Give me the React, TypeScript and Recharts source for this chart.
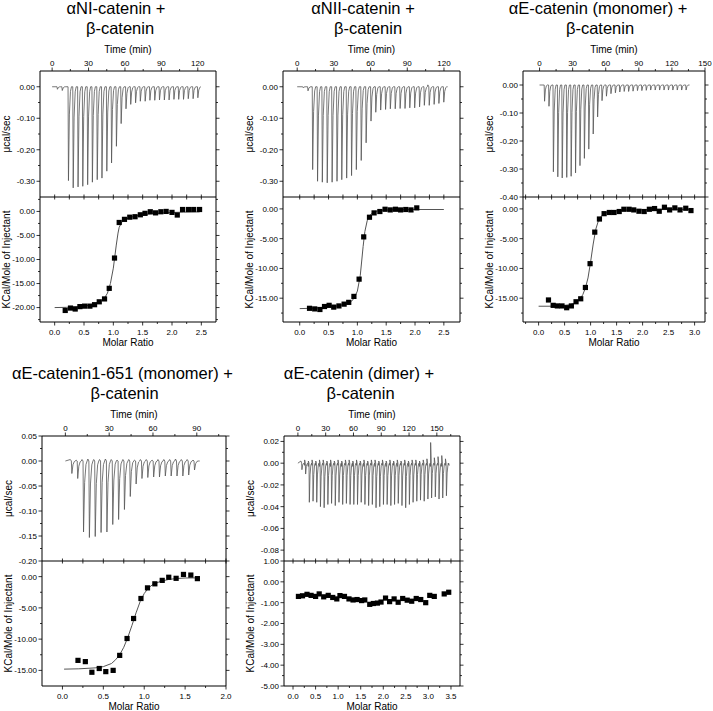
import React from 'react';
import { ComposedChart, Line, Scatter, XAxis, YAxis } from 'recharts';

// ---------------- Panel 1: αNI-catenin + β-catenin ----------------
const p1Times = [4.0, 8.0, 13.1, 17.0, 21.0, 24.9, 28.9, 32.8, 36.8, 40.7, 44.7, 48.6, 52.6, 56.5, 60.5, 64.4, 68.4, 72.3, 76.3, 80.2, 84.2, 88.1, 92.1, 96.0, 100.0, 103.9, 107.9, 111.8, 115.8, 119.7];
const p1Peaks = [-0.008, -0.012, -0.298, -0.321, -0.318, -0.316, -0.311, -0.303, -0.295, -0.290, -0.268, -0.242, -0.189, -0.117, -0.070, -0.056, -0.051, -0.046, -0.046, -0.043, -0.043, -0.042, -0.042, -0.042, -0.040, -0.040, -0.040, -0.038, -0.038, -0.035];
const p1Ratio = [0.18, 0.27, 0.35, 0.43, 0.51, 0.6, 0.68, 0.76, 0.85, 0.93, 1.02, 1.1, 1.19, 1.28, 1.37, 1.46, 1.54, 1.63, 1.72, 1.81, 1.9, 2.0, 2.09, 2.18, 2.28, 2.37, 2.47];
const p1Heat = [-20.6, -20.1, -20.3, -19.8, -19.7, -19.7, -19.4, -18.8, -18.2, -16.0, -9.7, -2.3, -1.65, -1.2, -1.1, -0.7, -0.4, -0.07, -0.3, -0.07, 0.0, -0.2, -0.75, 0.4, 0.4, 0.4, 0.4];
const p1FitX = [0, 0.2, 0.4, 0.6, 0.7, 0.8, 0.85, 0.9, 0.95, 1.0, 1.05, 1.08, 1.1, 1.15, 1.2, 1.3, 1.4, 1.6, 1.8, 2.0, 2.2, 2.47];
const p1FitY = [-20.0, -19.95, -19.8, -19.5, -19.2, -18.6, -18.0, -17.0, -15.0, -11.8, -7.0, -4.5, -3.3, -2.1, -1.65, -1.2, -0.9, -0.55, -0.35, -0.22, -0.15, -0.1];

// ---------------- Panel 2: αNII-catenin + β-catenin ----------------
const p2Times = [4.5, 8.5, 12.3, 16.3, 20.2, 24.2, 28.2, 32.2, 36.1, 40.1, 44.1, 48.0, 52.0, 56.0, 60.0, 63.9, 67.9, 71.9, 75.8, 79.8, 83.8, 87.8, 91.7, 95.7, 99.7, 103.6, 107.6, 111.6, 115.5, 119.5];
const p2Peaks = [-0.003, -0.013, -0.263, -0.300, -0.303, -0.305, -0.303, -0.300, -0.295, -0.290, -0.282, -0.263, -0.234, -0.178, -0.109, -0.081, -0.074, -0.072, -0.070, -0.070, -0.069, -0.069, -0.067, -0.067, -0.064, -0.059, -0.059, -0.056, -0.053, -0.049];
const p2After = [0, 0, 0, 0, 0, 0, 0, 0, 0, 0, 0, 0, 0, 0, 0, 0, 0, 0, 0, 0, 0, 0, 0, 0, 0, 0.006, 0, 0, 0, 0];
const p2Ratio = [0.17, 0.26, 0.35, 0.43, 0.51, 0.59, 0.68, 0.77, 0.85, 0.94, 1.03, 1.11, 1.21, 1.29, 1.39, 1.48, 1.57, 1.66, 1.75, 1.84, 1.93, 2.03];
const p2Heat = [-16.7, -16.8, -16.9, -16.4, -16.2, -16.5, -16.3, -16.0, -15.7, -14.7, -11.8, -4.7, -1.4, -0.67, -0.44, -0.06, -0.17, -0.06, -0.17, -0.1, -0.17, 0.17];
const p2FitX = [0, 0.2, 0.4, 0.6, 0.8, 0.9, 0.95, 1.0, 1.05, 1.1, 1.13, 1.17, 1.2, 1.25, 1.3, 1.4, 1.6, 2.0, 2.5];
const p2FitY = [-16.75, -16.7, -16.6, -16.4, -16.0, -15.5, -14.9, -13.8, -11.2, -6.3, -3.8, -2.0, -1.3, -0.75, -0.45, -0.25, -0.15, -0.1, -0.1];

// ---------------- Panel 3: αE-catenin (monomer) + β-catenin ----------------
const p3Times = [4.2, 8.2, 12.2, 16.2, 20.2, 24.3, 28.3, 32.3, 36.3, 40.3, 44.3, 48.3, 52.3, 56.3, 60.3, 64.4, 68.4, 72.4, 76.4, 80.4, 84.4, 88.4, 92.4, 96.4, 100.4, 104.5, 108.5, 112.5, 116.5, 120.5, 124.5, 128.5, 132.5];
const p3Peaks = [-0.058, -0.076, -0.310, -0.328, -0.332, -0.330, -0.326, -0.314, -0.288, -0.262, -0.229, -0.175, -0.114, -0.056, -0.040, -0.031, -0.028, -0.025, -0.023, -0.023, -0.022, -0.020, -0.020, -0.019, -0.018, -0.018, -0.018, -0.018, -0.018, -0.018, -0.018, -0.018, -0.018];
const p3Ratio = [0.19, 0.28, 0.36, 0.45, 0.54, 0.63, 0.72, 0.81, 0.9, 0.99, 1.08, 1.17, 1.26, 1.36, 1.45, 1.55, 1.64, 1.74, 1.83, 1.93, 2.03, 2.13, 2.23, 2.32, 2.42, 2.52, 2.62, 2.72, 2.83, 2.93];
const p3Heat = [-15.3, -16.2, -16.3, -16.3, -16.6, -16.3, -15.6, -15.1, -13.2, -9.2, -3.9, -1.7, -0.8, -0.6, -0.6, -0.44, -0.06, -0.06, -0.17, -0.39, -0.44, -0.06, 0.06, -0.39, 0.28, -0.17, 0.17, -0.17, 0.11, -0.28];
const p3FitX = [0, 0.2, 0.4, 0.6, 0.7, 0.8, 0.85, 0.9, 0.95, 1.0, 1.05, 1.1, 1.15, 1.2, 1.3, 1.45, 1.7, 2.2, 2.95];
const p3FitY = [-16.35, -16.35, -16.3, -16.1, -15.8, -15.1, -14.4, -13.3, -11.6, -8.9, -5.9, -3.4, -2.0, -1.25, -0.65, -0.35, -0.2, -0.12, -0.08];

// ---------------- Panel 4: αE-catenin1-651 (monomer) + β-catenin ----------------
const p4Times = [4.1, 8.1, 12.1, 16.1, 20.1, 24.1, 28.1, 32.1, 36.1, 40.1, 44.1, 48.1, 52.1, 56.1, 60.1, 64.1, 68.1, 72.1, 76.1, 80.1, 84.1, 88.1];
const p4Peaks = [-0.025, -0.035, -0.142, -0.153, -0.151, -0.143, -0.142, -0.127, -0.117, -0.097, -0.071, -0.046, -0.035, -0.033, -0.032, -0.032, -0.030, -0.030, -0.030, -0.030, -0.028, -0.018];
const p4Before = [0.003, 0.002, 0.003, 0.004, 0.003, 0.003, 0.004, 0.003, 0.002, 0.003, 0.003, 0.002, 0.003, 0.003, 0.002, 0.003, 0.003, 0.003, 0.004, 0.003, 0.003, 0.002];
const p4Ratio = [0.19, 0.28, 0.36, 0.45, 0.53, 0.62, 0.7, 0.79, 0.87, 0.96, 1.04, 1.13, 1.22, 1.3, 1.39, 1.48, 1.57, 1.65];
const p4Heat = [-13.4, -13.6, -15.3, -14.7, -15.2, -15.0, -12.6, -9.9, -6.7, -3.5, -1.8, -1.15, -0.6, -0.1, -0.27, 0.35, 0.25, -0.32];
const p4FitX = [0.02, 0.2, 0.4, 0.5, 0.6, 0.65, 0.7, 0.75, 0.8, 0.85, 0.9, 0.95, 1.0, 1.05, 1.1, 1.2, 1.3, 1.4, 1.5, 1.66];
const p4FitY = [-14.8, -14.75, -14.6, -14.4, -13.9, -13.3, -12.5, -11.3, -9.7, -7.8, -5.8, -4.0, -2.7, -1.85, -1.3, -0.75, -0.45, -0.3, -0.22, -0.2];

// ---------------- Panel 5: αE-catenin (dimer) + β-catenin ----------------
const p5Times = [4, 8, 12, 16, 20, 24, 28, 32, 36, 40, 44, 48, 52, 56, 60, 64, 68, 72, 76, 80, 84, 88, 92, 96, 100, 104, 108, 112, 116, 120, 124, 128, 132, 136, 140, 144, 148, 152, 156, 160];
const p5Peaks = [-0.006, -0.010, -0.036, -0.035, -0.036, -0.040, -0.041, -0.038, -0.037, -0.039, -0.036, -0.038, -0.037, -0.038, -0.038, -0.038, -0.036, -0.038, -0.039, -0.038, -0.041, -0.040, -0.038, -0.038, -0.039, -0.038, -0.037, -0.039, -0.041, -0.038, -0.036, -0.035, -0.034, -0.035, -0.033, -0.032, -0.031, -0.033, -0.032, -0.030];
const p5Before = [0.002, 0.003, 0.002, 0.003, 0.002, 0.003, 0.003, 0.002, 0.003, 0.002, 0.003, 0.002, 0.003, 0.003, 0.002, 0.003, 0.002, 0.003, 0.002, 0.003, 0.003, 0.002, 0.003, 0.002, 0.003, 0.002, 0.003, 0.002, 0.003, 0.002, 0.003, 0.003, 0.002, 0.003, 0.004, 0.019, 0.005, 0.006, 0.007, 0.004];
const p5After = [-0.002, -0.003, -0.002, -0.002, -0.003, -0.002, -0.002, -0.003, -0.002, -0.002, -0.003, -0.002, -0.002, -0.003, -0.002, -0.002, -0.003, -0.002, -0.002, -0.003, -0.002, -0.002, -0.003, -0.002, -0.002, -0.003, -0.002, -0.002, -0.003, -0.002, -0.002, -0.003, -0.002, -0.002, -0.003, -0.002, -0.002, -0.003, -0.002, -0.002];
const p5Ratio = [0.12, 0.21, 0.31, 0.40, 0.50, 0.58, 0.68, 0.78, 0.88, 0.97, 1.04, 1.14, 1.24, 1.33, 1.42, 1.52, 1.59, 1.70, 1.78, 1.87, 1.95, 2.05, 2.14, 2.24, 2.33, 2.43, 2.53, 2.63, 2.73, 2.83, 2.94, 3.03, 3.13, 3.35, 3.45];
const p5Heat = [-0.70, -0.67, -0.60, -0.65, -0.70, -0.58, -0.72, -0.65, -0.75, -0.82, -0.66, -0.70, -0.82, -0.87, -0.85, -0.90, -0.87, -1.08, -1.04, -1.02, -0.97, -0.78, -0.95, -0.82, -0.98, -0.80, -0.88, -0.93, -0.80, -0.85, -1.00, -0.65, -0.70, -0.58, -0.50];

// ---------------- Tick values ----------------
const time120Major = [0, 30, 60, 90, 120];
const time120Minor = [15, 45, 75, 105];
const time150Major = [0, 30, 60, 90, 120, 150];
const time150Minor = [15, 45, 75, 105, 135];
const time90Major = [0, 30, 60, 90];
const time90Minor = [15, 45, 75, 105];
const time5Minor = [15, 45, 75, 105, 135, 165];
const raw30Major = [0, -0.1, -0.2, -0.3];
const raw30Minor = [-0.05, -0.15, -0.25];
const raw40Major = [0, -0.1, -0.2, -0.3, -0.4];
const raw40Minor = [-0.05, -0.15, -0.25, -0.35];
const raw4Major = [0.05, 0, -0.05, -0.1, -0.15, -0.2];
const raw4Minor = [0.025, -0.025, -0.075, -0.125, -0.175];
const raw5Major = [0.02, 0, -0.02, -0.04, -0.06, -0.08];
const raw5Minor = [0.01, -0.01, -0.03, -0.05, -0.07];
const mr25Major = [0, 0.5, 1.0, 1.5, 2.0, 2.5];
const mr25Minor = [0.25, 0.75, 1.25, 1.75, 2.25];
const mr3Major = [0, 0.5, 1.0, 1.5, 2.0, 2.5, 3.0];
const mr3Minor = [-0.25, 0.25, 0.75, 1.25, 1.75, 2.25, 2.75];
const mr2Major = [0, 0.5, 1.0, 1.5, 2.0];
const mr2Minor = [0.25, 0.75, 1.25, 1.75];
const mr35Major = [0, 0.5, 1.0, 1.5, 2.0, 2.5, 3.0, 3.5];
const mr35Minor = [0.25, 0.75, 1.25, 1.75, 2.25, 2.75, 3.25];
const heat20Major = [0, -5, -10, -15, -20];
const heat20Minor = [2.5, -2.5, -7.5, -12.5, -17.5, -22.5];
const heat15Major = [0, -5, -10, -15];
const heat15Minor = [-2.5, -7.5, -12.5, -17.5];
const heat4Minor = [-2.5, -7.5, -12.5];
const heat5Major = [1, 0, -1, -2, -3, -4, -5];
const heat5Minor = [0.5, -0.5, -1.5, -2.5, -3.5, -4.5];

const FONT = '"Liberation Sans", Arial, Helvetica, sans-serif';
const TRACE = '#555555';

type Pt = { t: number; v: number };
type XY = { x: number; y: number };

function buildTrace(times: number[], peaks: number[], tEnd: number, before?: number[], after?: number[]): Pt[] {
  const pts: Pt[] = [{ t: 0, v: 0 }];
  times.forEach((t, i) => {
    if (before) pts.push({ t: t - 0.7, v: before[i] });
    pts.push({ t, v: 0 });
    pts.push({ t: t + 0.35, v: peaks[i] });
    pts.push({ t: t + 1.1, v: peaks[i] * 0.3 });
    pts.push({ t: t + 2.0, v: peaks[i] * 0.05 });
    pts.push({ t: t + 2.8, v: 0 });
    if (after && after[i] !== 0) pts.push({ t: t + 3.2, v: after[i] });
  });
  pts.push({ t: tEnd, v: 0 });
  return pts;
}

function zipXY(xs: number[], ys: number[]): XY[] {
  return xs.map((x, i) => ({ x, y: ys[i] }));
}

function isIn(v: number, arr: number[]) {
  return arr.some((a) => Math.abs(a - v) < 1e-6);
}

function makeTick(side: 'left' | 'right' | 'top' | 'bottom' | 'cross', majors: number[], digits: number, labels: boolean) {
  return (p: any) => {
    const v = Number(p.payload && p.payload.value);
    const major = isIn(v, majors);
    const len = major ? 3.5 : 2;
    const x = Number(p.x);
    const y = Number(p.y);
    let x1 = x, y1 = y, x2 = x, y2 = y;
    let tx = x, ty = y;
    let anchor: 'start' | 'middle' | 'end' = 'middle';
    if (side === 'left') { x1 = x - len; tx = x - 5; ty = y + 2.9; anchor = 'end'; }
    else if (side === 'right') { x2 = x + len; }
    else if (side === 'top') { y1 = y - len; ty = y - 5; }
    else if (side === 'bottom') { y2 = y + len; ty = y + 12.5; }
    else { y1 = y - 2.5; y2 = y + 2.5; }
    let label = '';
    if (labels && major) {
      label = Math.abs(v) < 1e-9 ? (0).toFixed(digits) : v.toFixed(digits);
    }
    return (
      <g>
        <line x1={x1} y1={y1} x2={x2} y2={y2} stroke="#000" strokeWidth={0.8} />
        {label !== '' && (
          <text x={tx} y={ty} textAnchor={anchor} fontSize={8} fontFamily={FONT} fill="#000">
            {label}
          </text>
        )}
      </g>
    );
  };
}

const sortAll = (a: number[], b: number[]) => [...a, ...b].sort((m, n) => m - n);

type PanelCfg = {
  boxLeft: number; boxRight: number; topY: number; midY: number; botY: number;
  title1: string; title2: string; t1x: number; t2x: number; t1y: number;
  timeDomain: [number, number]; timeMajor: number[]; timeMinor: number[];
  rawDomain: [number, number]; rawMajor: number[]; rawMinor: number[];
  trace: Pt[];
  mrDomain: [number, number]; mrMajor: number[]; mrMinor: number[];
  heatDomain: [number, number]; heatMajor: number[]; heatMinor: number[];
  squares: XY[]; fit: XY[] | null;
};

const L = 44;
const R = 8;
const T = 16;
const TB = 6;
const T2 = 5;
const B = 18;

const squareShape = (p: any) => (
  <rect x={p.cx - 2.6} y={p.cy - 2.6} width={5.2} height={5.2} fill="#000" />
);

function Panel({ c }: { c: PanelCfg }) {
  const boxW = c.boxRight - c.boxLeft;
  const topH = c.midY - c.topY;
  const botH = c.botY - c.midY;
  const w = L + boxW + R;
  const timeTicks = sortAll(c.timeMajor, c.timeMinor);
  const rawTicks = sortAll(c.rawMajor, c.rawMinor);
  const mrTicks = sortAll(c.mrMajor, c.mrMinor);
  const heatTicks = sortAll(c.heatMajor, c.heatMinor);
  const axisLine = { stroke: '#000', strokeWidth: 1 };
  return (
    <>
      <div style={{ position: 'absolute', left: c.boxLeft - L, top: c.topY - T }}>
        <ComposedChart width={w} height={T + topH + TB} margin={{ top: 0, right: 0, bottom: TB, left: 0 }}>
          <XAxis xAxisId="t" orientation="top" type="number" dataKey="t" domain={c.timeDomain} allowDataOverflow
            ticks={timeTicks} interval={0} height={T} tickSize={0} tickMargin={0} tickLine={false}
            axisLine={axisLine} tick={makeTick('top', c.timeMajor, 0, true)} />
          <YAxis yAxisId="v" orientation="left" type="number" domain={c.rawDomain} allowDataOverflow
            ticks={rawTicks} interval={0} width={L} tickSize={0} tickMargin={0} tickLine={false}
            axisLine={axisLine} tick={makeTick('left', c.rawMajor, 2, true)} />
          <YAxis yAxisId="vr" orientation="right" type="number" domain={c.rawDomain} allowDataOverflow
            ticks={rawTicks} interval={0} width={R} tickSize={0} tickMargin={0} tickLine={false}
            axisLine={axisLine} tick={makeTick('right', c.rawMajor, 2, false)} />
          <Line xAxisId="t" yAxisId="v" data={c.trace} dataKey="v" type="linear" stroke={TRACE}
            strokeWidth={0.8} dot={false} activeDot={false} isAnimationActive={false} />
        </ComposedChart>
      </div>
      <div style={{ position: 'absolute', left: c.boxLeft - L, top: c.midY - T2 }}>
        <ComposedChart width={w} height={T2 + botH + B} margin={{ top: 0, right: 0, bottom: 0, left: 0 }}>
          <XAxis xAxisId="m" orientation="bottom" type="number" dataKey="x" domain={c.mrDomain} allowDataOverflow
            ticks={mrTicks} interval={0} height={B} tickSize={0} tickMargin={0} tickLine={false}
            axisLine={axisLine} tick={makeTick('bottom', c.mrMajor, 1, true)} />
          <XAxis xAxisId="mt" orientation="top" type="number" dataKey="x" domain={c.mrDomain} allowDataOverflow
            ticks={mrTicks} interval={0} height={T2} tickSize={0} tickMargin={0} tickLine={false}
            axisLine={axisLine} tick={makeTick('cross', c.mrMajor, 1, false)} />
          <YAxis yAxisId="h" orientation="left" type="number" domain={c.heatDomain} allowDataOverflow
            ticks={heatTicks} interval={0} width={L} tickSize={0} tickMargin={0} tickLine={false}
            axisLine={axisLine} tick={makeTick('left', c.heatMajor, 2, true)} />
          <YAxis yAxisId="hr" orientation="right" type="number" domain={c.heatDomain} allowDataOverflow
            ticks={heatTicks} interval={0} width={R} tickSize={0} tickMargin={0} tickLine={false}
            axisLine={axisLine} tick={makeTick('right', c.heatMajor, 2, false)} />
          {c.fit && (
            <Line xAxisId="m" yAxisId="h" data={c.fit} dataKey="y" type="linear" stroke="#555"
              strokeWidth={1} dot={false} activeDot={false} isAnimationActive={false} />
          )}
          <Scatter xAxisId="m" yAxisId="h" data={c.squares} dataKey="y" shape={squareShape}
            isAnimationActive={false} />
        </ComposedChart>
      </div>
    </>
  );
}

const panels: PanelCfg[] = [
  {
    boxLeft: 40, boxRight: 216, topY: 71, midY: 197, botY: 322,
    title1: 'αNI-catenin +', title2: 'β-catenin', t1x: 116, t2x: 120, t1y: 13.5,
    timeDomain: [-10, 135], timeMajor: time120Major, timeMinor: time120Minor,
    rawDomain: [-0.35, 0.05], rawMajor: raw30Major, rawMinor: raw30Minor,
    trace: buildTrace(p1Times, p1Peaks, 122.5),
    mrDomain: [-0.25, 2.75], mrMajor: mr25Major, mrMinor: mr25Minor,
    heatDomain: [-23, 3], heatMajor: heat20Major, heatMinor: heat20Minor,
    squares: zipXY(p1Ratio, p1Heat), fit: zipXY(p1FitX, p1FitY),
  },
  {
    boxLeft: 283, boxRight: 460, topY: 71, midY: 197, botY: 322,
    title1: 'αNII-catenin +', title2: 'β-catenin', t1x: 363, t2x: 368, t1y: 13.5,
    timeDomain: [-11.6, 133.1], timeMajor: time120Major, timeMinor: time120Minor,
    rawDomain: [-0.35, 0.05], rawMajor: raw30Major, rawMinor: raw30Minor,
    trace: buildTrace(p2Times, p2Peaks, 123, undefined, p2After),
    mrDomain: [-0.29, 2.78], mrMajor: mr25Major, mrMinor: mr25Minor,
    heatDomain: [-19, 2], heatMajor: heat15Major, heatMinor: heat15Minor,
    squares: zipXY(p2Ratio, p2Heat), fit: zipXY(p2FitX, p2FitY),
  },
  {
    boxLeft: 523, boxRight: 705, topY: 71, midY: 197, botY: 322,
    title1: 'αE-catenin (monomer) +', title2: 'β-catenin', t1x: 598, t2x: 600, t1y: 13.5,
    timeDomain: [-15, 150], timeMajor: time150Major, timeMinor: time150Minor,
    rawDomain: [-0.4, 0.05], rawMajor: raw40Major, rawMinor: raw40Minor,
    trace: buildTrace(p3Times, p3Peaks, 136),
    mrDomain: [-0.3, 3.2], mrMajor: mr3Major, mrMinor: mr3Minor,
    heatDomain: [-19, 2], heatMajor: heat15Major, heatMinor: heat15Minor,
    squares: zipXY(p3Ratio, p3Heat), fit: zipXY(p3FitX, p3FitY),
  },
  {
    boxLeft: 42, boxRight: 226, topY: 436, midY: 561, botY: 686,
    title1: 'αE-catenin1-651 (monomer) +', title2: 'β-catenin', t1x: 122.5, t2x: 124.5, t1y: 378.5,
    timeDomain: [-16, 110], timeMajor: time90Major, timeMinor: time90Minor,
    rawDomain: [-0.2, 0.05], rawMajor: raw4Major, rawMinor: raw4Minor,
    trace: buildTrace(p4Times, p4Peaks, 92, p4Before),
    mrDomain: [-0.25, 2.0], mrMajor: mr2Major, mrMinor: mr2Minor,
    heatDomain: [-17.5, 2.5], heatMajor: heat15Major, heatMinor: heat4Minor,
    squares: zipXY(p4Ratio, p4Heat), fit: zipXY(p4FitX, p4FitY),
  },
  {
    boxLeft: 284, boxRight: 460, topY: 436, midY: 561, botY: 686,
    title1: 'αE-catenin (dimer) +', title2: 'β-catenin', t1x: 359, t2x: 360.5, t1y: 378.5,
    timeDomain: [-15, 175], timeMajor: time150Major, timeMinor: time5Minor,
    rawDomain: [-0.09, 0.025], rawMajor: raw5Major, rawMinor: raw5Minor,
    trace: buildTrace(p5Times, p5Peaks, 162, p5Before, p5After),
    mrDomain: [-0.2, 3.7], mrMajor: mr35Major, mrMinor: mr35Minor,
    heatDomain: [-5, 1], heatMajor: heat5Major, heatMinor: heat5Minor,
    squares: zipXY(p5Ratio, p5Heat), fit: null,
  },
];

function Labels() {
  return (
    <svg width={713} height={711} style={{ position: 'absolute', left: 0, top: 0, pointerEvents: 'none' }}>
      {panels.map((c, i) => {
        const cx = (c.boxLeft + c.boxRight) / 2;
        const lx = c.boxLeft - 34;
        const topMid = (c.topY + c.midY) / 2;
        const botMid = (c.midY + c.botY) / 2;
        return (
          <g key={i} fontFamily={FONT} fill="#000">
            <text x={c.t1x} y={c.t1y} textAnchor="middle" fontSize={16.5}>{c.title1}</text>
            <text x={c.t2x} y={c.t1y + 20} textAnchor="middle" fontSize={16.5}>{c.title2}</text>
            <text x={cx} y={c.topY - 18.5} textAnchor="middle" fontSize={10}>Time (min)</text>
            <text x={cx} y={c.botY + 23.5} textAnchor="middle" fontSize={10}>Molar Ratio</text>
            <text transform={`translate(${lx},${topMid}) rotate(-90)`} textAnchor="middle" dy="0.35em" fontSize={10}>μcal/sec</text>
            <text transform={`translate(${lx},${botMid}) rotate(-90)`} textAnchor="middle" dy="0.35em" fontSize={10}>KCal/Mole of Injectant</text>
          </g>
        );
      })}
    </svg>
  );
}

export default function App() {
  return (
    <div style={{ position: 'absolute', left: 0, top: 0, width: 713, height: 711, background: '#fff', overflow: 'hidden' }}>
      {panels.map((c, i) => (
        <Panel key={i} c={c} />
      ))}
      <Labels />
    </div>
  );
}
